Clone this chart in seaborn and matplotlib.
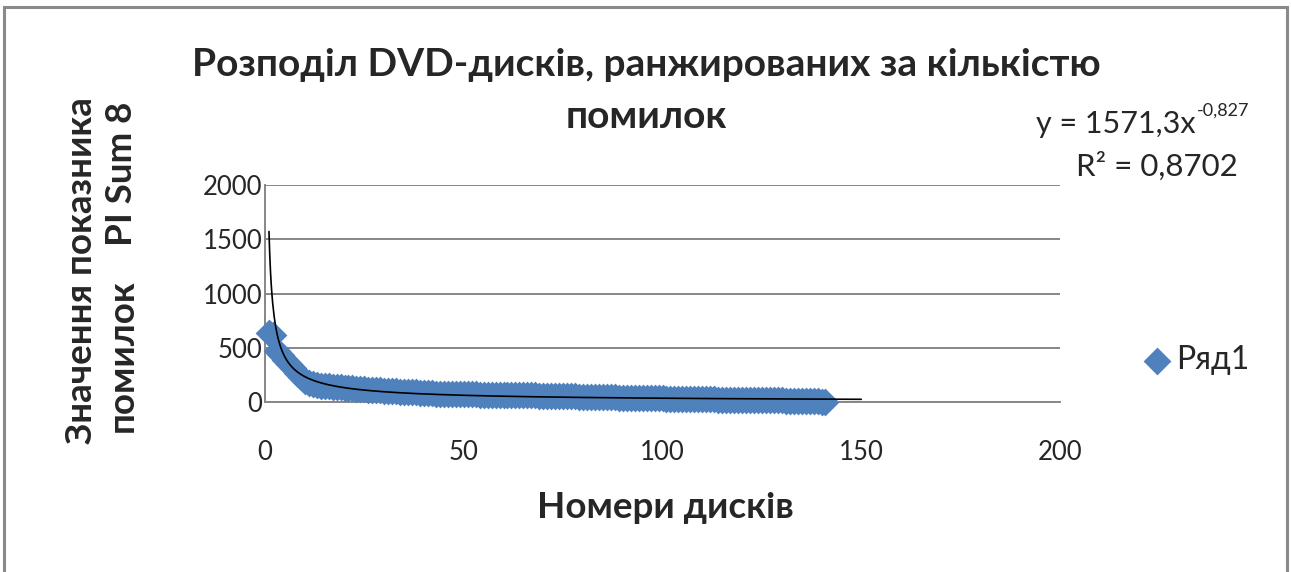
import numpy as np
import pandas as pd
import matplotlib
matplotlib.use("Agg")
import matplotlib.pyplot as plt
import seaborn as sns
from matplotlib.patches import Rectangle

# PI Sum 8 per disc, discs ranked by error count
pi_sum8 = [640, 615, 470, 430, 390, 350, 310, 270, 230, 195,
           175, 165, 158, 152, 148, 144, 140, 137, 134, 131,
           128, 125, 122, 119, 116, 113, 110, 108, 106, 104,
           102, 100, 98, 96, 94, 92, 90, 88, 86, 84,
           82, 80, 78, 77, 76, 75, 74, 73, 72, 71,
           71, 70, 70, 69, 69, 68, 68, 67, 67, 66,
           66, 65, 65, 64, 64, 63, 62, 60, 58, 57,
           56, 55, 54, 53, 52, 52, 51, 51, 50, 50,
           49, 49, 48, 47, 45, 44, 43, 42, 41, 40,
           40, 39, 39, 38, 38, 37, 37, 36, 35, 33,
           31, 30, 29, 28, 28, 27, 27, 26, 26, 25,
           25, 24, 24, 23, 23, 22, 22, 21, 21, 20,
           20, 19, 19, 18, 18, 17, 17, 16, 16, 15,
           13, 12, 11, 10, 9, 8, 7, 6, 5, 4, 3]
disc_no = list(range(1, len(pi_sum8) + 1))

# power trendline as printed on the chart
trend_a = 1571.3
trend_b = -0.827
trend_end = 150

x_ticks = [0, 50, 100, 150, 200]
y_ticks = [0, 500, 1000, 1500, 2000]

W, H = 1291, 572
blue = "#4F81BD"
grey = "#878787"
txt = "#262626"

sns.set_style("white")
plt.rcParams['font.family'] = ['Lato', 'DejaVu Sans']

df = pd.DataFrame({"disc": disc_no, "pi": pi_sum8})

fig = plt.figure(figsize=(W / 100, H / 100), dpi=100)
ax = fig.add_axes([265 / W, 1 - 402 / H, (1060 - 265) / W, (402 - 185) / H])

sns.scatterplot(data=df, x="disc", y="pi", marker="D", s=200, color=blue,
                linewidth=0, ax=ax, label="Ряд1", zorder=3)
for c in ax.collections:
    c.set_clip_on(False)

tx = np.linspace(1, trend_end, 800)
ax.plot(tx, trend_a * tx ** trend_b, color="black", lw=1.2, zorder=4)

ax.set_xlim(0, 200)
ax.set_ylim(0, 2000)
ax.set_xticks(x_ticks)
ax.set_yticks(y_ticks)
ax.set_xlabel("")
ax.set_ylabel("")
ax.yaxis.grid(True, color=grey, lw=1.4)
ax.set_axisbelow(True)
for s in ["top", "right"]:
    ax.spines[s].set_visible(False)
for s in ["left", "bottom"]:
    ax.spines[s].set_color(grey)
    ax.spines[s].set_linewidth(1.4)
ax.tick_params(axis="x", length=0, pad=27, labelsize=18.5, labelcolor=txt)
ax.tick_params(axis="y", length=0, pad=2, labelsize=18.5, labelcolor=txt)

ax.legend(loc="center left", bbox_to_anchor=(1125 / W, 1 - 360 / H),
          bbox_transform=fig.transFigure, frameon=False, fontsize=23,
          handletextpad=0.1, borderpad=0, handlelength=1.0, labelcolor=txt)

def ftext(px, py, s, **kw):
    fig.text(px / W, 1 - py / H, s, color=txt, **kw)

ftext(646, 65, "Розподіл DVD-дисків, ранжированих за кількістю",
      ha="center", va="center", fontsize=28, fontweight="bold")
ftext(646, 116, "помилок", ha="center", va="center", fontsize=28, fontweight="bold")
ftext(665, 508, "Номери дисків", ha="center", va="center", fontsize=26.5, fontweight="bold")
ftext(82, 271, "Значення показника", ha="center", va="center", rotation=90,
      fontsize=26.5, fontweight="bold")
ftext(122, 356, "помилок", ha="center", va="center", rotation=90,
      fontsize=26.5, fontweight="bold")
ftext(122, 174, "PI Sum 8", ha="center", va="center", rotation=90,
      fontsize=26.5, fontweight="bold")

ftext(1196, 124, "y = 1571,3x", ha="right", va="center", fontsize=22)
ftext(1197, 111, "-0,827", ha="left", va="center", fontsize=13)
ftext(1157, 166, "R² = 0,8702", ha="center", va="center", fontsize=22.5)

fig.add_artist(Rectangle((4 / W, -0.2), (1287 - 4) / W, 1.2 - 7 / H,
                         transform=fig.transFigure, fill=False,
                         ec="#8a8a8a", lw=2.2))

fig.savefig("out.png", dpi=100)
